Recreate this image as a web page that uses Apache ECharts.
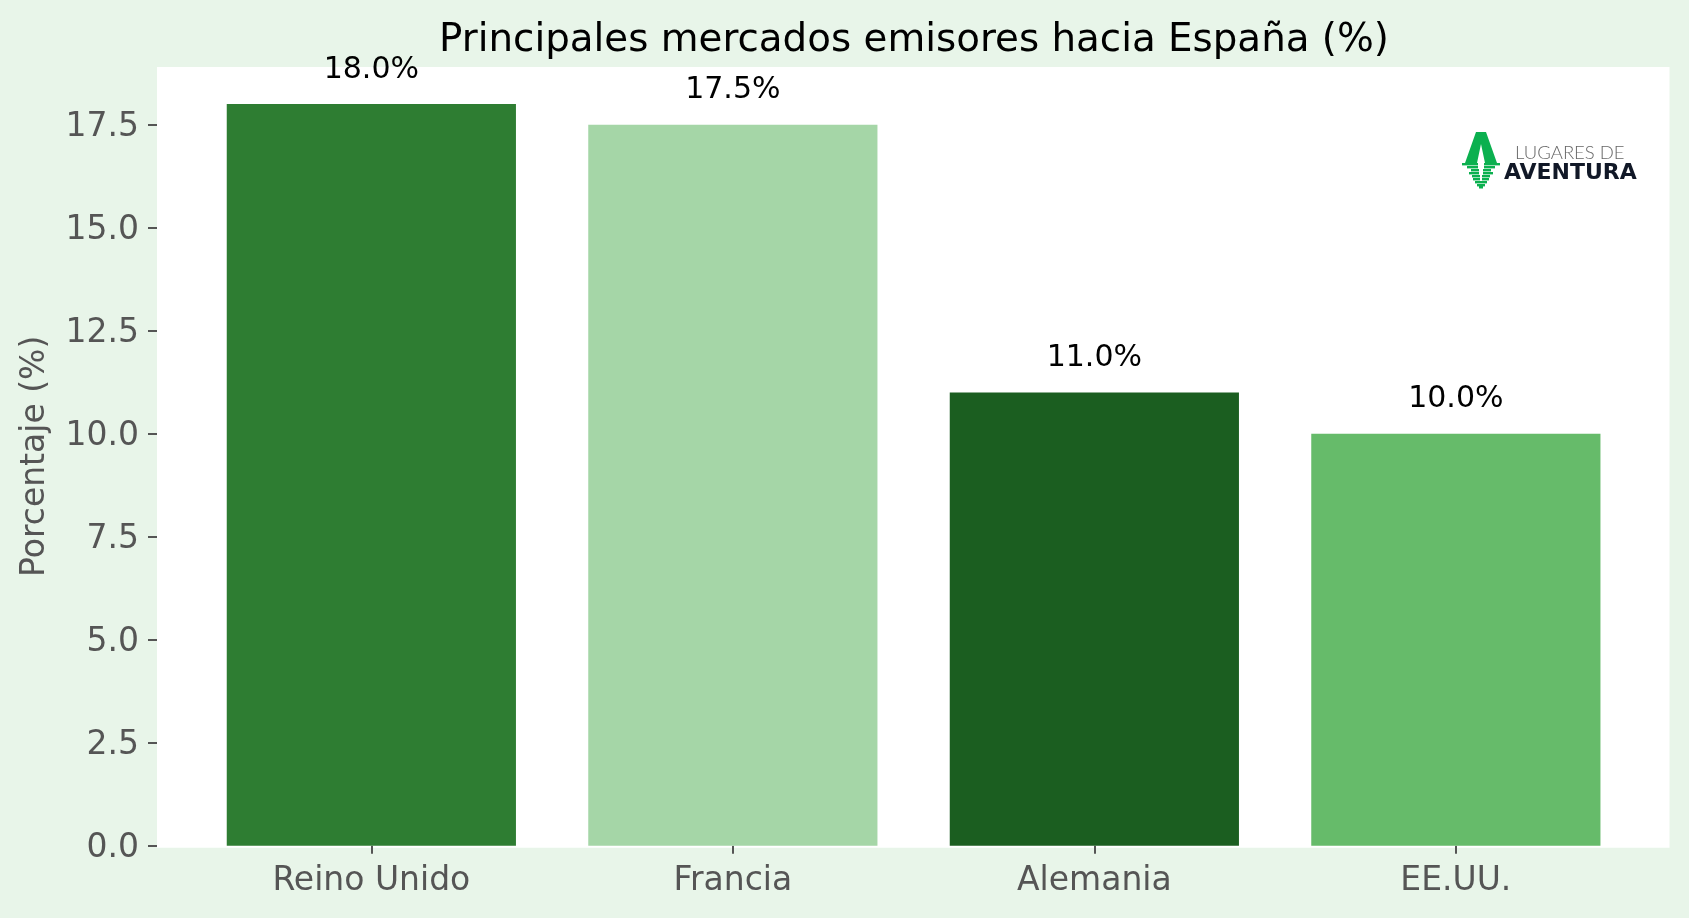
<!DOCTYPE html>
<html>
<head>
<meta charset="utf-8">
<title>Principales mercados emisores hacia España</title>
<script src="https://cdn.jsdelivr.net/npm/echarts@6/dist/echarts.min.js"></script>
<style>
  html, body { margin: 0; padding: 0; background: #E8F5E9; }
  #chart { width: 1689px; height: 918px; }
</style>
</head>
<body>
<div id="chart"></div>
<script>
const categories = ['Reino Unido', 'Francia', 'Alemania', 'EE.UU.'];
const shares = [18.0, 17.5, 11.0, 10.0];
const barColors = ['#2E7D32', '#A5D6A7', '#1B5E20', '#66BB6A'];
const yTicks = [0, 2.5, 5, 7.5, 10, 12.5, 15, 17.5];
const yMax = 18.9;

const FONT = '"DejaVu Sans", sans-serif';
const chart = echarts.init(document.getElementById('chart'), null, { renderer: 'canvas' });

// logo reflection: [y, half width, half gap], mirrored around the logo axis
const logoX = 1481;
const logoStripes = [[163, 19, 3], [166, 14, 3], [169, 10, 2], [172, 12, 2], [175, 9, 1], [178, 8, 1], [181, 6, 0], [184, 4, 0], [186, 2, 0]];
const logoGreen = '#0BB04F';

const stripeShapes = [];
logoStripes.forEach(s => {
  [[-s[1], -s[2]], [s[2], s[1]]].forEach(r => {
    stripeShapes.push({
      type: 'rect', z: 50,
      shape: { x: logoX + r[0], y: s[0], width: r[1] - r[0], height: 2.4 },
      style: { fill: logoGreen }
    });
  });
});

const option = {
  backgroundColor: '#E8F5E9',
  animation: false,
  title: {
    text: 'Principales mercados emisores hacia España (%)',
    left: 909,
    top: 16,
    textAlign: 'center',
    textStyle: { fontFamily: FONT, fontSize: 38.8, fontWeight: 'normal', color: '#000' }
  },
  grid: [
    // white panel, wider than the bar bands and 2px below zero
    { left: 157, top: 67, width: 1512.5, height: 780.7, show: true, backgroundColor: '#fff', borderWidth: 0 },
    { left: 190.6, top: 67, width: 1446, height: 778.7 }
  ],
  xAxis: [
    { gridIndex: 0, type: 'value', show: false },
    {
      gridIndex: 1,
      type: 'category',
      data: categories,
      offset: 2,
      axisLine: { show: false },
      axisTick: { show: true, alignWithLabel: true, length: 8, lineStyle: { color: '#555', width: 2 } },
      axisLabel: { fontFamily: FONT, fontSize: 33, color: '#555', margin: 17 }
    }
  ],
  yAxis: [
    { gridIndex: 0, type: 'value', show: false },
    {
      gridIndex: 1,
      type: 'value',
      min: 0,
      max: yMax,
      offset: 33.6,
      name: 'Porcentaje (%)',
      nameLocation: 'middle',
      nameGap: 105,
      nameTextStyle: { fontFamily: FONT, fontSize: 33, color: '#555' },
      splitLine: { show: false },
      axisLine: { show: false },
      axisTick: { show: true, length: 9, customValues: yTicks, lineStyle: { color: '#555', width: 2 } },
      axisLabel: {
        customValues: yTicks,
        margin: 18,
        formatter: v => '{t|' + v.toFixed(1) + '}',
        rich: { t: { fontFamily: FONT, fontSize: 33, color: '#555', padding: [6, 0, 0, 0] } }
      }
    }
  ],
  series: [{
    type: 'bar',
    xAxisIndex: 1,
    yAxisIndex: 1,
    barWidth: '80%',
    data: shares.map((v, i) => ({ value: v, itemStyle: { color: barColors[i] } })),
    label: {
      show: true,
      position: 'top',
      distance: 19,
      fontFamily: FONT,
      fontSize: 30,
      color: '#000',
      formatter: p => p.value.toFixed(1) + '%'
    }
  }],
  // logo
  graphic: [
    {
      type: 'polygon',
      z: 50,
      shape: { points: [[1476, 132], [1486, 132], [1497, 163], [1485, 163], [1481, 144], [1477, 163], [1465, 163]] },
      style: { fill: logoGreen }
    },
    ...stripeShapes,
    {
      type: 'text',
      z: 50,
      left: 1515,
      top: 144,
      style: { text: 'LUGARES DE', font: '300 18.5px Lato, sans-serif', fill: '#666' }
    },
    {
      type: 'text',
      z: 50,
      left: 1504,
      top: 162,
      style: { text: 'AVENTURA', font: '700 22px "DejaVu Sans", sans-serif', fill: '#111827' }
    }
  ]
};

chart.setOption(option);
</script>
</body>
</html>
